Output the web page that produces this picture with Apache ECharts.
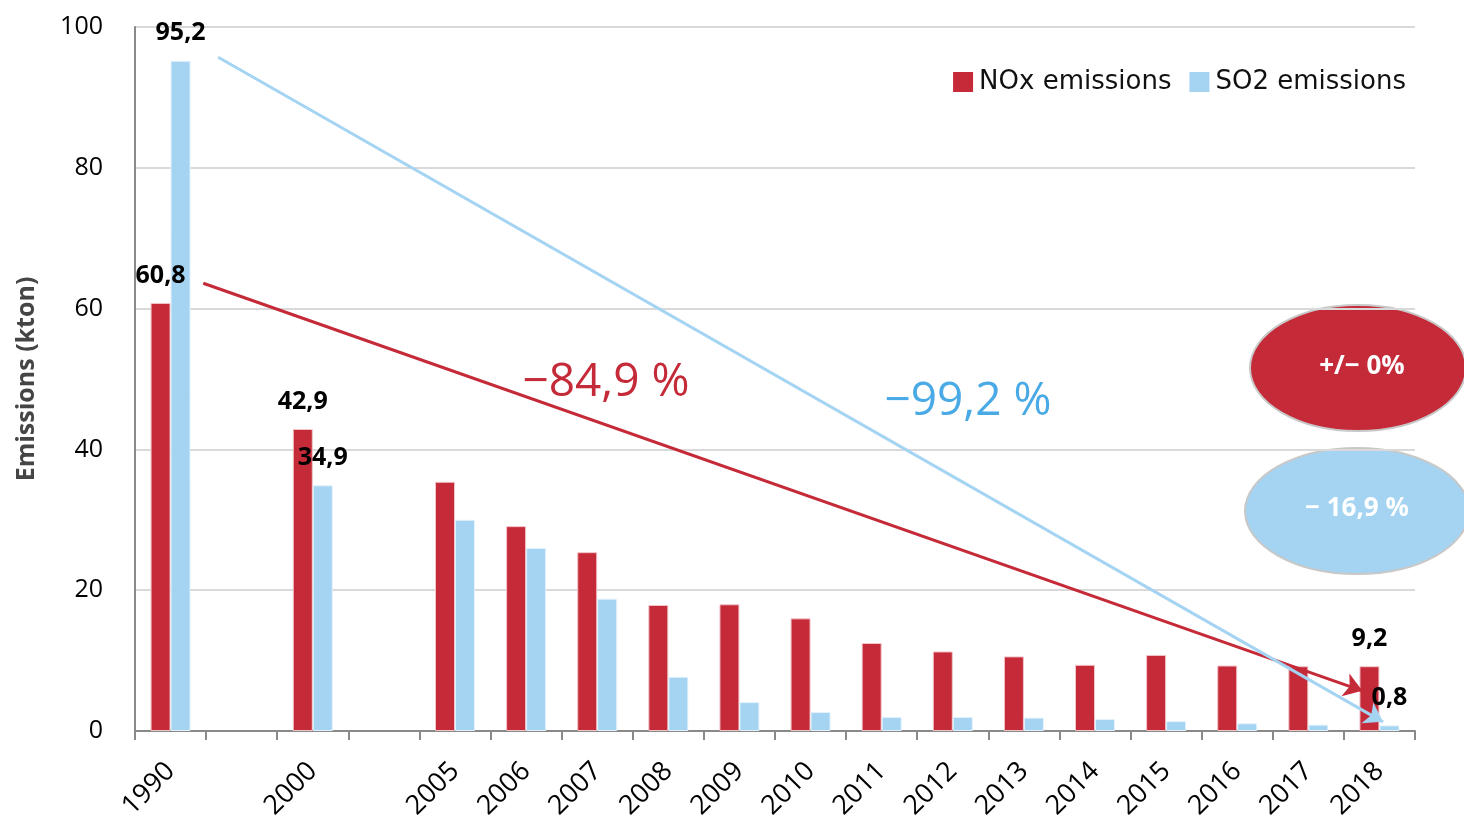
<!DOCTYPE html>
<html>
<head>
<meta charset="utf-8">
<script src="https://cdn.jsdelivr.net/npm/echarts@6/dist/echarts.min.js"></script>
<style>
  html, body { margin: 0; padding: 0; background: #fff; }
  #main { width: 1464px; height: 819px; }
</style>
</head>
<body>
<div id="main"></div>
<script>
// categories (empty slots keep the gaps 1990 -> 2000 -> 2005)
var years = ['1990', '', '2000', '', '2005', '2006', '2007', '2008', '2009', '2010',
             '2011', '2012', '2013', '2014', '2015', '2016', '2017', '2018']
var noxValues = [60.8, null, 42.9, null, 35.4, 29.1, 25.4, 17.9, 18.0, 16.0,
                 12.5, 11.3, 10.6, 9.4, 10.8, 9.3, 9.2, 9.2]
var so2Values = [95.2, null, 34.9, null, 30.0, 26.0, 18.8, 7.7, 4.1, 2.7,
                 2.0, 2.0, 1.9, 1.7, 1.4, 1.1, 0.9, 0.8]
var labelledYears = ['1990', '2000', '2018']
var yTicks = [0, 20, 40, 60, 80, 100]
// trend arrows, in [slot position, kton]
var noxTrend = [[0.96, 63.6], [17.26, 5.7]]
var so2Trend = [[1.17, 95.7], [17.55, 1.3]]

var red = '#c52a38'
var blue = '#a4d4f2'
var font = 'Open Sans'

function toItems (values) {
    return values.map(function (v, i) {
        return {
            value: v,
            label: { show: v !== null && labelledYears.indexOf(years[i]) >= 0 }
        }
    })
}

function comma (p) {
    return String(p.value).replace('.', ',')
}

var myChart = echarts.init(document.getElementById('main'))
myChart.setOption({
    animation: false,
    textStyle: { fontFamily: font },
    grid: { left: 135, right: 49, top: 27, bottom: 88, outerBoundsMode: 'none' },
    legend: {
        right: 53,
        top: 64,
        itemWidth: 20,
        itemHeight: 20,
        itemGap: 18,
        icon: 'rect',
        itemStyle: { borderWidth: 0 },
        textStyle: { fontFamily: 'DejaVu Sans', fontSize: 26, color: '#111', padding: [0, 0, 0, 1] },
        data: ['NOx emissions', 'SO2 emissions']
    },
    xAxis: [{
        type: 'category',
        data: years,
        axisLine: { lineStyle: { color: '#898989', width: 2 } },
        axisTick: { show: true, interval: 0, length: 9, lineStyle: { color: '#898989', width: 2 } },
        axisLabel: { interval: 0, rotate: 45, fontSize: 27, color: '#000', margin: 36 }
    }, {
        type: 'value',
        min: 0,
        max: years.length,
        show: false
    }],
    yAxis: {
        type: 'value',
        min: yTicks[0],
        max: yTicks[yTicks.length - 1],
        interval: 20,
        name: 'Emissions (kton)',
        nameLocation: 'middle',
        nameRotate: 90,
        nameGap: 96,
        nameTextStyle: { fontSize: 25, color: '#454545', fontWeight: 'bold' },
        axisLine: { show: true, lineStyle: { color: '#898989', width: 2 } },
        axisTick: { show: false },
        axisLabel: { fontSize: 25, color: '#000', margin: 32 },
        splitLine: { lineStyle: { color: '#d9d9d9', width: 2 } }
    },
    series: [{
        name: 'NOx emissions',
        type: 'bar',
        barWidth: 20,
        barGap: '0%',
        itemStyle: { color: red, borderColor: '#f3c5c9', borderWidth: 1 },
        label: { position: 'top', distance: 15, fontSize: 25, fontWeight: 'bold', color: '#000', formatter: comma },
        data: toItems(noxValues)
    }, {
        name: 'SO2 emissions',
        type: 'bar',
        barWidth: 20,
        itemStyle: { color: blue, borderColor: '#e3f2fc', borderWidth: 1 },
        label: { position: 'top', distance: 15, fontSize: 25, fontWeight: 'bold', color: '#000', formatter: comma },
        data: toItems(so2Values)
    }, {
        name: 'nox trend',
        type: 'line',
        xAxisIndex: 1,
        data: [],
        markLine: {
            silent: true,
            symbol: ['none', 'arrow'],
            symbolSize: 18,
            label: { show: false },
            lineStyle: { color: red, width: 3, type: 'solid' },
            data: [[{ coord: noxTrend[0] }, { coord: noxTrend[1] }]]
        }
    }, {
        name: 'so2 trend',
        type: 'line',
        xAxisIndex: 1,
        data: [],
        markLine: {
            silent: true,
            symbol: ['none', 'arrow'],
            symbolSize: 18,
            label: { show: false },
            lineStyle: { color: blue, width: 3, type: 'solid' },
            data: [[{ coord: so2Trend[0] }, { coord: so2Trend[1] }]]
        }
    }],
    graphic: [
        { type: 'text', x: 606, y: 383, style: { text: '\u221284,9 %', fill: red, font: '46px "Open Sans"', align: 'center', verticalAlign: 'middle' } },
        { type: 'text', x: 968, y: 402, style: { text: '\u221299,2 %', fill: '#4aaae6', font: '46px "Open Sans"', align: 'center', verticalAlign: 'middle' } },
        { type: 'ellipse', shape: { cx: 1358, cy: 368, rx: 108, ry: 63 },
          style: { fill: red, stroke: '#c8c8c8', lineWidth: 2 } },
        { type: 'text', x: 1362, y: 367, style: { text: '+/\u2212 0%', fill: '#fff', font: 'bold 26px "Open Sans"', align: 'center', verticalAlign: 'middle' } },
        { type: 'ellipse', shape: { cx: 1357, cy: 511, rx: 112, ry: 63 },
          style: { fill: blue, stroke: '#c8c8c8', lineWidth: 2 } },
        { type: 'text', x: 1357, y: 509, style: { text: '\u2212 16,9 %', fill: '#fff', font: 'bold 26px "Open Sans"', align: 'center', verticalAlign: 'middle' } }
    ]
})
</script>
</body>
</html>
